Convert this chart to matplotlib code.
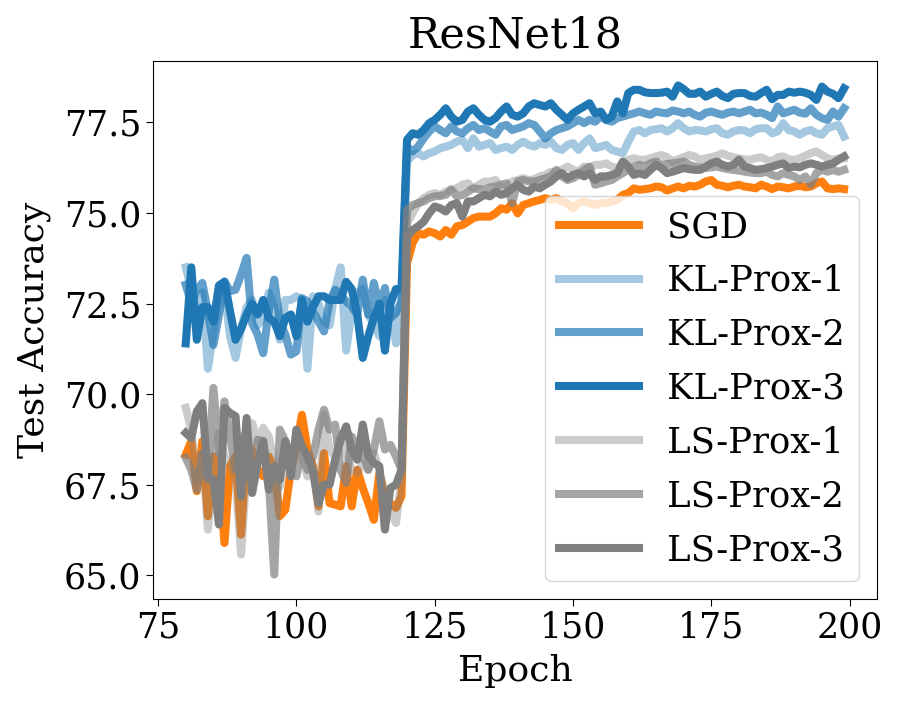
import numpy as np
from matplotlib import pyplot as plt

plt.rcParams['font.family'] = 'DejaVu Serif'

epochs = np.arange(80, 200)

sgd = [
    68.33, 68.70, 67.32, 68.70, 66.63, 68.28, 67.91, 65.89, 68.01, 68.28,
    66.12, 68.56, 68.47, 67.91, 67.73, 68.28, 67.91, 66.63, 66.81, 67.91,
    68.56, 69.43, 68.47, 68.01, 66.90, 68.37, 66.99, 66.95, 66.90, 68.01,
    66.90, 67.91, 67.41, 66.99, 66.53, 67.82, 67.18, 66.99, 66.86, 67.18,
    73.61, 74.17, 74.44, 74.40, 74.49, 74.44, 74.35, 74.53, 74.40, 74.63,
    74.67, 74.76, 74.86, 74.90, 74.90, 74.90, 74.99, 75.13, 75.09, 75.27,
    74.99, 75.22, 75.27, 75.32, 75.36, 75.41, 75.36, 75.41, 75.32, 75.27,
    75.13, 75.27, 75.32, 75.27, 75.22, 75.27, 75.27, 75.32, 75.36, 75.50,
    75.55, 75.68, 75.64, 75.66, 75.68, 75.73, 75.71, 75.62, 75.68, 75.73,
    75.68, 75.75, 75.73, 75.78, 75.87, 75.91, 75.78, 75.75, 75.71, 75.75,
    75.78, 75.73, 75.71, 75.68, 75.78, 75.73, 75.66, 75.73, 75.71, 75.68,
    75.73, 75.75, 75.71, 75.73, 75.82, 75.87, 75.68, 75.66, 75.68, 75.66,
]

kl_prox_1 = [
    73.50, 72.90, 71.80, 72.80, 70.70, 71.70, 72.60, 72.90, 71.60, 71.00,
    71.80, 72.40, 72.60, 71.90, 72.10, 72.80, 72.40, 71.50, 72.60, 72.60,
    72.70, 72.60, 70.70, 72.70, 72.50, 72.00, 71.90, 72.90, 73.50, 71.20,
    72.30, 72.80, 72.90, 72.20, 71.90, 71.60, 72.60, 72.40, 71.40, 72.60,
    76.42, 76.60, 76.65, 76.56, 76.65, 76.70, 76.79, 76.83, 76.88, 76.97,
    77.02, 76.79, 77.06, 76.83, 76.88, 76.93, 76.74, 76.79, 76.83, 76.74,
    76.88, 76.97, 76.88, 76.83, 76.93, 76.88, 76.97, 76.79, 76.74, 76.88,
    76.93, 76.74, 76.93, 77.06, 76.79, 76.83, 76.88, 76.74, 76.70, 76.65,
    76.97, 77.25, 77.29, 77.20, 77.29, 77.31, 77.34, 77.25, 77.34, 77.48,
    77.34, 77.25, 77.29, 77.28, 77.25, 77.31, 77.34, 77.20, 77.16, 77.25,
    77.29, 77.28, 77.20, 77.31, 77.34, 77.34, 77.20, 77.25, 77.48, 77.29,
    77.25, 77.16, 77.25, 77.29, 77.20, 77.16, 77.34, 77.39, 77.43, 77.11,
]

kl_prox_2 = [
    73.02, 72.51, 72.88, 73.07, 72.28, 71.36, 72.19, 73.11, 72.84, 72.88,
    73.30, 73.76, 71.96, 71.64, 71.13, 72.28, 73.16, 72.01, 71.64, 71.09,
    71.18, 72.65, 72.56, 72.28, 72.01, 71.73, 72.56, 72.88, 72.74, 72.56,
    72.42, 72.19, 73.16, 72.19, 73.07, 72.38, 72.93, 72.10, 72.24, 72.56,
    76.83, 76.70, 76.83, 77.06, 77.25, 77.39, 77.29, 77.20, 77.39, 77.25,
    77.20, 77.34, 77.43, 77.29, 77.34, 77.25, 77.16, 77.39, 77.43, 77.29,
    77.34, 77.39, 77.48, 77.43, 77.25, 77.06, 77.20, 77.29, 77.34, 77.39,
    77.48, 77.57, 77.48, 77.57, 77.52, 77.66, 77.57, 77.52, 77.62, 77.66,
    77.71, 77.75, 77.80, 77.75, 77.71, 77.80, 77.77, 77.75, 77.83, 77.80,
    77.75, 77.80, 77.71, 77.66, 77.77, 77.80, 77.75, 77.71, 77.77, 77.80,
    77.75, 77.80, 77.85, 77.75, 77.77, 77.71, 77.62, 77.94, 77.75, 77.80,
    77.85, 77.77, 77.74, 77.89, 77.71, 77.62, 77.57, 77.80, 77.66, 77.89,
]

kl_prox_3 = [
    71.40, 73.50, 71.50, 72.40, 72.40, 72.00, 73.00, 73.10, 72.30, 71.50,
    71.80, 72.20, 72.50, 72.20, 72.60, 72.10, 72.00, 71.60, 72.10, 72.20,
    71.60, 72.60, 72.00, 72.40, 72.70, 72.70, 72.60, 72.60, 72.60, 73.10,
    72.90, 72.20, 71.00, 71.60, 72.10, 72.50, 71.20, 72.50, 72.90, 72.90,
    77.02, 77.20, 77.16, 77.29, 77.48, 77.57, 77.71, 77.89, 77.66, 77.52,
    77.57, 77.80, 77.89, 77.71, 77.57, 77.52, 77.62, 77.80, 77.94, 77.71,
    77.66, 77.75, 77.94, 78.03, 77.98, 77.94, 78.03, 77.85, 77.71, 77.57,
    77.75, 77.85, 77.94, 78.03, 77.75, 77.80, 77.57, 77.66, 78.08, 77.75,
    78.31, 78.40, 78.40, 78.33, 78.31, 78.31, 78.32, 78.35, 78.21, 78.52,
    78.42, 78.29, 78.29, 78.35, 78.21, 78.29, 78.35, 78.23, 78.17, 78.29,
    78.31, 78.31, 78.23, 78.21, 78.31, 78.40, 78.14, 78.26, 78.26, 78.35,
    78.32, 78.35, 78.32, 78.26, 78.12, 78.49, 78.35, 78.29, 78.17, 78.44,
]

ls_prox_1 = [
    69.62, 69.02, 67.64, 68.37, 66.26, 67.91, 68.93, 68.28, 68.10, 67.64,
    65.57, 67.91, 69.20, 68.65, 69.07, 68.83, 68.10, 67.45, 68.28, 67.91,
    68.83, 68.28, 67.73, 68.01, 66.76, 69.43, 68.47, 68.28, 68.83, 68.37,
    67.91, 67.82, 68.10, 67.91, 68.37, 67.91, 67.18, 66.81, 66.44, 67.64,
    74.72, 74.99, 75.27, 75.41, 75.50, 75.55, 75.50, 75.59, 75.66, 75.68,
    75.78, 75.82, 75.68, 75.78, 75.87, 75.87, 75.91, 75.68, 75.73, 75.87,
    75.91, 75.96, 75.91, 75.93, 76.01, 76.05, 76.14, 76.10, 76.19, 76.28,
    76.19, 76.14, 76.28, 76.24, 76.33, 76.33, 76.37, 76.28, 76.24, 76.37,
    76.47, 76.51, 76.47, 76.47, 76.51, 76.56, 76.60, 76.54, 76.42, 76.48,
    76.54, 76.60, 76.56, 76.47, 76.51, 76.54, 76.58, 76.65, 76.58, 76.54,
    76.51, 76.48, 76.47, 76.51, 76.54, 76.47, 76.42, 76.54, 76.56, 76.48,
    76.47, 76.51, 76.58, 76.65, 76.70, 76.60, 76.51, 76.47, 76.51, 76.51,
]

ls_prox_2 = [
    68.24, 67.91, 67.36, 68.37, 67.64, 70.17, 68.37, 69.80, 68.83, 67.91,
    68.83, 67.73, 67.64, 68.74, 68.70, 67.64, 65.02, 69.02, 68.70, 68.37,
    67.73, 68.47, 67.91, 68.28, 69.02, 69.57, 69.02, 69.16, 67.91, 67.55,
    68.83, 68.47, 68.37, 67.91, 68.47, 69.25, 68.47, 68.60, 68.28, 67.91,
    75.09, 75.22, 75.27, 75.32, 75.41, 75.46, 75.47, 75.50, 75.64, 75.46,
    75.50, 75.59, 75.68, 75.66, 75.64, 75.71, 75.73, 75.78, 75.82, 75.27,
    75.87, 75.91, 75.87, 75.87, 75.91, 75.96, 76.01, 76.19, 76.01, 75.91,
    75.96, 76.05, 76.19, 76.28, 75.78, 75.82, 75.87, 75.91, 76.01, 76.10,
    76.19, 76.28, 76.33, 76.28, 76.37, 76.42, 76.33, 76.35, 76.37, 76.39,
    76.42, 76.33, 76.28, 76.26, 76.24, 76.26, 76.28, 76.24, 76.21, 76.19,
    76.17, 76.14, 76.12, 76.10, 76.10, 76.14, 76.05, 76.01, 76.10, 76.05,
    76.01, 75.91, 76.01, 75.78, 76.10, 76.19, 76.14, 76.19, 76.14, 76.19,
]

ls_prox_3 = [
    68.93, 68.79, 69.52, 69.75, 67.73, 67.64, 66.40, 69.62, 69.48, 69.39,
    67.18, 69.34, 67.27, 68.10, 68.70, 67.36, 68.01, 67.64, 68.70, 67.73,
    69.02, 68.56, 68.28, 67.87, 66.99, 67.50, 67.50, 68.19, 68.74, 69.11,
    68.47, 68.19, 69.16, 68.28, 68.10, 68.01, 66.26, 67.41, 67.50, 67.91,
    74.35, 74.53, 74.63, 74.76, 74.99, 75.18, 75.13, 75.04, 75.22, 75.27,
    74.90, 75.32, 75.32, 75.41, 75.50, 75.46, 75.59, 75.50, 75.55, 75.68,
    75.78, 75.64, 75.59, 75.73, 75.68, 75.78, 75.87, 76.01, 76.10, 75.96,
    76.05, 76.10, 76.01, 76.10, 75.91, 76.01, 76.01, 76.05, 76.10, 76.42,
    76.28, 76.05, 76.10, 76.05, 76.19, 76.33, 76.24, 76.10, 76.14, 76.19,
    76.24, 76.21, 76.19, 76.19, 76.28, 76.37, 76.42, 76.33, 76.28, 76.33,
    76.47, 76.28, 76.24, 76.19, 76.21, 76.24, 76.28, 76.33, 76.37, 76.24,
    76.28, 76.26, 76.33, 76.37, 76.33, 76.28, 76.33, 76.37, 76.47, 76.56,
]

blue = '#1f77b4'
grey = '#7f7f7f'

fig = plt.figure(figsize=(8.99, 7.07), dpi=100)
ax = fig.add_subplot(111)
fig.subplots_adjust(left=0.170, right=0.9755, top=0.9137, bottom=0.1528)

lw = 5.8
ax.plot(epochs, sgd, color='#ff7f0e', lw=lw, label='SGD')
ax.plot(epochs, kl_prox_1, color=blue, alpha=0.4, lw=lw, label='KL-Prox-1')
ax.plot(epochs, kl_prox_2, color=blue, alpha=0.7, lw=lw, label='KL-Prox-2')
ax.plot(epochs, kl_prox_3, color=blue, alpha=1.0, lw=lw, label='KL-Prox-3')
ax.plot(epochs, ls_prox_1, color=grey, alpha=0.4, lw=lw, label='LS-Prox-1')
ax.plot(epochs, ls_prox_2, color=grey, alpha=0.7, lw=lw, label='LS-Prox-2')
ax.plot(epochs, ls_prox_3, color=grey, alpha=1.0, lw=lw, label='LS-Prox-3')

ax.set_xticks([75, 100, 125, 150, 175, 200])
ax.set_yticks([65.0, 67.5, 70.0, 72.5, 75.0, 77.5])
ax.tick_params(labelsize=25, length=5)
ax.set_xlabel('Epoch', fontsize=26, labelpad=7)
ax.set_ylabel('Test Accuracy', fontsize=26, labelpad=9)
ax.set_title('ResNet18', fontsize=31, pad=10)
ax.legend(loc='lower right', fontsize=25.5, handlelength=2.25, labelspacing=0.56)

fig.savefig('out.png', dpi=100)
